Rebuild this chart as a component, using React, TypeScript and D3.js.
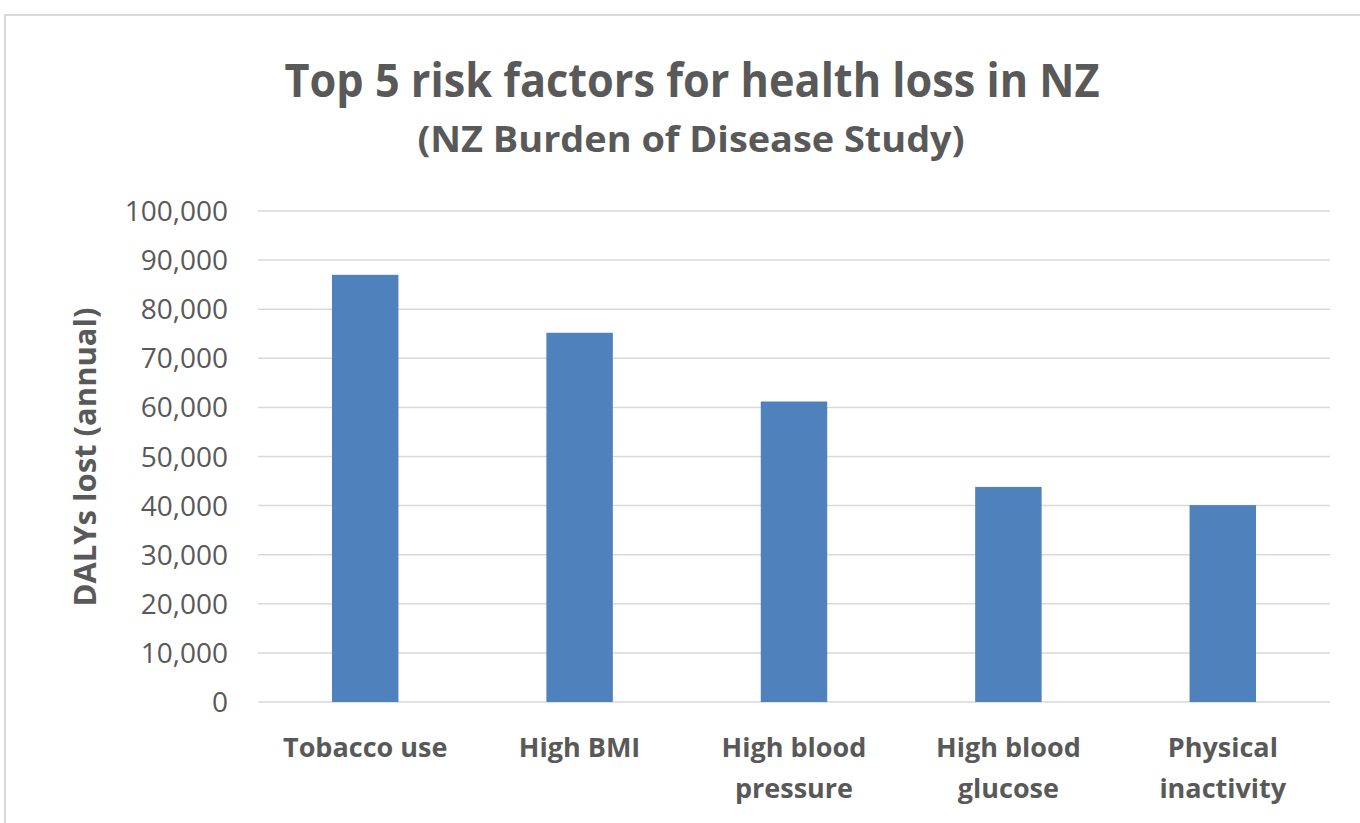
import React from 'react';
import * as d3 from 'd3';

const categories = [['Tobacco use'], ['High BMI'], ['High blood', 'pressure'], ['High blood', 'glucose'], ['Physical', 'inactivity']];
const dalys = [87000, 75200, 61200, 43800, 40100];
const yTicks = [0, 10000, 20000, 30000, 40000, 50000, 60000, 70000, 80000, 90000, 100000];

const width = 1360;
const height = 823;
const margin = { top: 211, right: 30, bottom: 121, left: 258 };
const font = '"Open Sans", "DejaVu Sans", sans-serif';
const grey = '#595959';

export default function App() {
    const innerW = width - margin.left - margin.right;
    const innerH = height - margin.top - margin.bottom;

    const x = d3.scaleBand()
        .domain(categories.map((c, i) => String(i)))
        .range([0, innerW])
        .paddingInner(0.69)
        .paddingOuter(0.345);

    const y = d3.scaleLinear().domain([0, 100000]).range([innerH, 0]);
    const fmt = d3.format(',');

    return (
        <svg width={width} height={height} style={{ position: 'absolute', left: 0, top: 0, background: '#fff' }}>
            {/* frame */}
            <rect x={5} y={15} width={width + 10} height={height + 10} fill="none" stroke="#d9d9d9" strokeWidth={2} />

            <text x={692} y={97} textAnchor="middle" fontFamily={font} fontWeight="bold" fontSize={46} fill={grey}
                textLength={815} lengthAdjust="spacingAndGlyphs">
                Top 5 risk factors for health loss in NZ
            </text>
            <text x={691} y={152} textAnchor="middle" fontFamily={font} fontWeight="bold" fontSize={35} fill={grey}
                textLength={547} lengthAdjust="spacingAndGlyphs">
                (NZ Burden of Disease Study)
            </text>

            <text transform={`translate(96,457) rotate(-90)`} textAnchor="middle" fontFamily={font} fontWeight="bold"
                fontSize={30} fill={grey} textLength={299} lengthAdjust="spacingAndGlyphs">
                DALYs lost (annual)
            </text>

            <g transform={`translate(${margin.left},${margin.top})`}>
                {yTicks.map(t => (
                    <g key={t} transform={`translate(0,${y(t)})`}>
                        <line x1={0} x2={innerW} stroke="#d9d9d9" strokeWidth={1.5} />
                        <text x={-30} dy="0.36em" textAnchor="end" fontFamily={font} fontSize={28} fill={grey}>
                            {fmt(t)}
                        </text>
                    </g>
                ))}

                {dalys.map((v, i) => (
                    <rect key={i} x={x(String(i))} y={y(v)} width={x.bandwidth()} height={innerH - y(v)} fill="#4f81bd" />
                ))}

                {categories.map((lines, i) => (
                    <text key={i} x={(x(String(i)) || 0) + x.bandwidth() / 2} y={innerH + 55} textAnchor="middle"
                        fontFamily={font} fontWeight="bold" fontSize={27} fill={grey}>
                        {lines.map((l, j) => (
                            <tspan key={j} x={(x(String(i)) || 0) + x.bandwidth() / 2} dy={j === 0 ? 0 : 41}>{l}</tspan>
                        ))}
                    </text>
                ))}
            </g>
        </svg>
    );
}
